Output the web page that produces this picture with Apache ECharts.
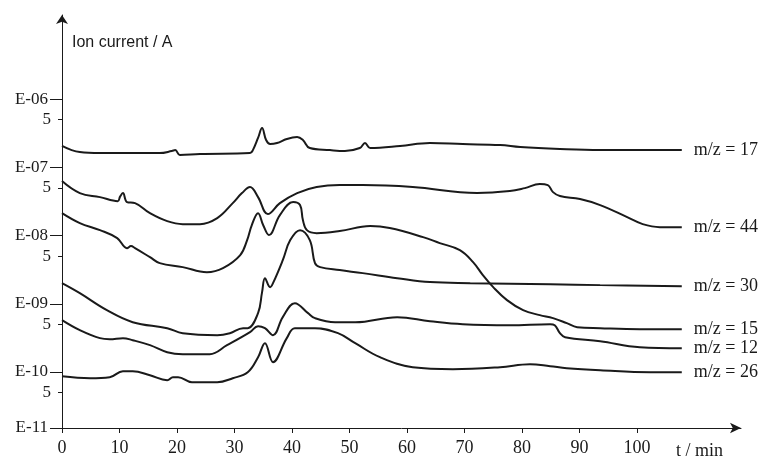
<!DOCTYPE html>
<html><head><meta charset="utf-8">
<script src="https://cdn.jsdelivr.net/npm/echarts@6/dist/echarts.min.js"></script>
<style>html,body{margin:0;padding:0;background:#fff}#c{width:763px;height:459px}</style>
</head><body><div id="c"></div>
<script>
// Time in minutes; values are log10(Ion current / A)
const t17  = [0,3.1,6.6,17,19.1,19.7,20.5,24,32.7,33.2,34.1,34.8,35.5,36.2,37.4,39.1,40.9,41.9,43.1,46.6,49.2,51.8,52.7,53.6,58.8,64,69.7,76.2,79.7,86.6,93.6,107.8];
const mz17 = [-6.685,-6.777,-6.792,-6.792,-6.762,-6.748,-6.821,-6.806,-6.792,-6.748,-6.570,-6.425,-6.600,-6.660,-6.645,-6.585,-6.557,-6.600,-6.718,-6.748,-6.762,-6.718,-6.645,-6.718,-6.689,-6.645,-6.660,-6.674,-6.704,-6.733,-6.748,-6.748];

const t44  = [0,3.1,6.6,9.7,10.1,10.6,11.3,12.7,15.3,18.3,21,24,27,29.7,31.3,32.7,34.1,35.8,37.9,40.9,44.3,48.3,52.3,61,72.2,77.9,80.5,83.1,84.5,85.4,86.6,90.1,93.6,98.3,101,104,107.8];
const mz44 = [-7.202,-7.378,-7.437,-7.496,-7.430,-7.378,-7.510,-7.525,-7.672,-7.789,-7.833,-7.833,-7.745,-7.525,-7.378,-7.290,-7.437,-7.686,-7.525,-7.378,-7.290,-7.261,-7.261,-7.290,-7.378,-7.349,-7.305,-7.246,-7.261,-7.364,-7.422,-7.466,-7.554,-7.730,-7.833,-7.877,-7.877];

const t30  = [0,3.1,7.8,12.3,18.3,21,27,29.2,31.5,32.3,34.1,34.8,35.3,36.2,36.7,38.4,39.7,41.4,43.1,44,44.9,48.3,52.3,58.3,64,71,84.9,93.6,107.8];
const mz30 = [-8.698,-8.845,-9.094,-9.270,-9.358,-9.431,-9.460,-9.431,-9.358,-9.358,-9.138,-8.830,-8.625,-8.757,-8.698,-8.361,-8.067,-7.921,-8.067,-8.405,-8.463,-8.507,-8.551,-8.625,-8.683,-8.698,-8.713,-8.727,-8.742];

const t15  = [0,3.1,6.6,9.6,11.3,12,12.7,15.3,17,21,25.2,28,31,32.2,33,34.1,35,36,37.9,40.2,41.4,41.9,42.6,44.3,48.3,53.6,57,62.8,65.7,69.2,71.5,73.2,75,77.4,80.2,83.1,85.4,87.8,89.6,93.6,100.5,107.8];
const mz15 = [-7.672,-7.818,-7.921,-8.038,-8.185,-8.155,-8.185,-8.317,-8.405,-8.463,-8.537,-8.478,-8.287,-8.067,-7.850,-7.672,-7.850,-7.994,-7.701,-7.510,-7.554,-7.774,-7.921,-7.965,-7.935,-7.862,-7.891,-8.023,-8.111,-8.214,-8.390,-8.581,-8.757,-8.947,-9.094,-9.167,-9.211,-9.284,-9.343,-9.358,-9.372,-9.372];

const t12  = [0,3.1,6.6,8.3,10.6,12.3,15.3,18.3,21,25.7,28.7,32.7,34.1,35.3,36.7,38.4,40.5,42.8,44,47.5,51,58.3,64,69.7,77.9,84.9,85.7,86.6,87.5,93.6,100.5,107.8];
const mz12 = [-9.240,-9.387,-9.504,-9.519,-9.504,-9.534,-9.607,-9.710,-9.739,-9.739,-9.607,-9.416,-9.328,-9.358,-9.460,-9.196,-8.991,-9.138,-9.211,-9.270,-9.270,-9.196,-9.255,-9.299,-9.314,-9.299,-9.314,-9.431,-9.490,-9.548,-9.636,-9.651];

const t26  = [0,4.9,8.3,10.6,12.3,15.3,18.3,19.3,20.2,22.6,27,29.7,32.3,34.1,35.3,36.7,39.1,40.5,44,48,51,55.3,61,68,76.2,81.4,84.9,87.8,93.6,102.3,107.8];
const mz26 = [-10.062,-10.091,-10.076,-9.988,-9.988,-10.047,-10.120,-10.076,-10.076,-10.150,-10.150,-10.091,-10.003,-9.783,-9.578,-9.856,-9.504,-9.358,-9.358,-9.431,-9.578,-9.783,-9.930,-9.959,-9.930,-9.886,-9.915,-9.944,-9.974,-10.003,-10.003];

const seriesNames = ['m/z = 17','m/z = 44','m/z = 30','m/z = 15','m/z = 12','m/z = 26'];
const seriesT = [t17,t44,t30,t15,t12,t26];
const seriesV = [mz17,mz44,mz30,mz15,mz12,mz26];

const xTicks = [0,10,20,30,40,50,60,70,80,90,100];
const yMajor = [-10.821,-10,-9,-8,-7,-6];
const yMajorLabels = ['E-11','E-10','E-09','E-08','E-07','E-06'];
const yMinor = [-10.301,-9.301,-8.301,-7.301,-6.301];
const yMinorLabel = '5';

const Y_MIN = -10.821, Y_MAX = -4.768, X_MAX = 118.1;
const serif = '"Liberation Serif", "Times New Roman", serif';
const ink = '#1a1a1a';

function lbl(v){
  for (let i=0;i<yMajor.length;i++) if (Math.abs(v-yMajor[i])<1e-6) return yMajorLabels[i];
  return '';
}

const chart = echarts.init(document.getElementById('c'), null, {renderer:'canvas'});
chart.setOption({
  animation:false,
  backgroundColor:'#fff',
  grid:{left:62, top:15, width:679, height:413},
  xAxis:{
    type:'value', min:0, max:X_MAX,
    axisLine:{show:true, lineStyle:{color:ink,width:1}, symbol:['none','arrow'], symbolSize:[8,11]},
    axisTick:{show:true, customValues:xTicks, length:5, lineStyle:{color:ink}},
    axisLabel:{customValues:xTicks, fontFamily:serif, fontSize:18, color:ink, margin:11},
    splitLine:{show:false}
  },
  yAxis:[{
    type:'value', min:Y_MIN, max:Y_MAX,
    axisLine:{show:true, lineStyle:{color:ink,width:1}, symbol:['none','arrow'], symbolSize:[9,9]},
    axisTick:{show:true, customValues:yMajor, length:12, lineStyle:{color:ink}},
    axisLabel:{customValues:yMajor, formatter:lbl, fontFamily:serif, fontSize:17, color:ink, margin:14},
    splitLine:{show:false}
  },{
    type:'value', min:Y_MIN, max:Y_MAX, position:'left',
    axisLine:{show:false},
    axisTick:{show:true, customValues:yMinor, length:4, lineStyle:{color:ink}},
    axisLabel:{customValues:yMinor, formatter:function(){return yMinorLabel;}, fontFamily:serif, fontSize:17, color:ink, margin:11},
    splitLine:{show:false}
  }],
  graphic:[
    {type:'text', left:72, top:35, style:{text:'Ion current / A', font:'16px "Liberation Sans", Arial, sans-serif', fill:ink}},
    {type:'text', left:676, top:442, style:{text:'t / min', font:'18px "Liberation Serif", serif', fill:ink}}
  ],
  series: seriesNames.map((n,i)=>({
    type:'line', name:n, yAxisIndex:0,
    data: seriesT[i].map((t,j)=>[t, seriesV[i][j]]),
    showSymbol:false, symbol:'none', smooth:0.4,
    lineStyle:{color:ink, width:2},
    endLabel:{show:true, formatter:n, fontFamily:serif, fontSize:18, color:ink, distance:12}
  }))
});
</script></body></html>
